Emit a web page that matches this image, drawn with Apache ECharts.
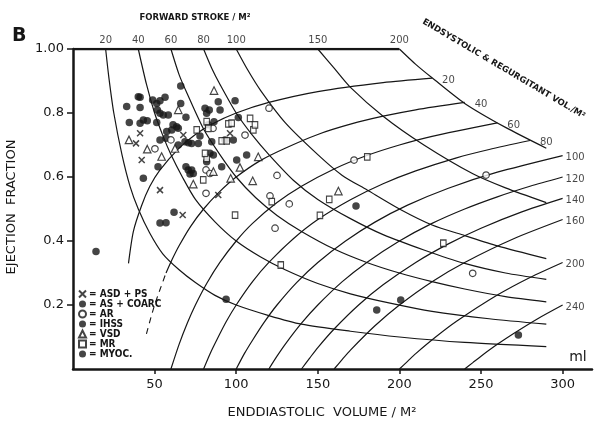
<!DOCTYPE html>
<html>
<head>
<meta charset="utf-8">
<title>Ejection fraction vs enddiastolic volume</title>
<script src="https://cdn.jsdelivr.net/npm/echarts@6.0.0/dist/echarts.min.js"></script>
<style>
  html, body { margin: 0; padding: 0; background: #fff; }
  #chart { width: 599px; height: 438px; }
</style>
</head>
<body>
<div id="chart"></div>
<script>
// axis ticks
const xTicks = [50, 100, 150, 200, 250, 300];
const yTicks = [0.2, 0.4, 0.6, 0.8, 1.0];

// iso-line labels
const fsValues = [20, 40, 60, 80, 100, 150, 200];
const esvValues = [20, 40, 60, 80, 100, 120, 140, 160, 200, 240];

// forward stroke / M2 curves, [EDV, EF], read top to bottom-right
const fs20 = [[20, 1.0], [22, 0.91], [25, 0.80], [30, 0.67], [35, 0.57], [40, 0.50], [47, 0.425], [55, 0.36], [65, 0.31], [75, 0.27], [87, 0.23], [100, 0.20], [120, 0.167], [140, 0.14], [170, 0.118], [200, 0.10], [240, 0.083], [290, 0.07]];
const fs40 = [[40, 1.0], [45, 0.89], [50, 0.80], [55, 0.73], [60, 0.67], [67, 0.60], [75, 0.53], [87, 0.46], [100, 0.40], [115, 0.35], [130, 0.31], [150, 0.267], [170, 0.235], [195, 0.205], [220, 0.18], [255, 0.157], [290, 0.14]];
const fs60 = [[60, 1.0], [65, 0.92], [70, 0.86], [80, 0.75], [90, 0.67], [100, 0.60], [112, 0.535], [125, 0.48], [140, 0.43], [160, 0.375], [180, 0.333], [200, 0.30], [220, 0.273], [240, 0.25], [265, 0.226], [290, 0.21]];
const fs80 = [[80, 1.0], [85, 0.94], [90, 0.89], [100, 0.80], [110, 0.73], [120, 0.67], [135, 0.59], [150, 0.53], [170, 0.47], [190, 0.42], [215, 0.372], [240, 0.33], [265, 0.30], [290, 0.28]];
const fs100 = [[100, 1.0], [107, 0.935], [115, 0.87], [130, 0.77], [150, 0.67], [165, 0.605], [180, 0.56], [200, 0.50], [220, 0.45], [240, 0.417], [260, 0.385], [290, 0.345]];
const fs150 = [[150, 1.0], [160, 0.94], [170, 0.88], [190, 0.79], [215, 0.70], [245, 0.61], [265, 0.566], [290, 0.52]];
const fs200 = [[200, 1.0], [210, 0.952], [220, 0.91], [240, 0.83], [265, 0.755], [290, 0.69]];

// endsystolic & regurgitant vol / M2 curves, [EDV, EF], bottom-left to right end
const esv20 = [[34, 0.33], [37, 0.43], [42, 0.51], [47, 0.57], [53, 0.62], [65, 0.69], [75, 0.733], [85, 0.765], [100, 0.80], [120, 0.833], [150, 0.867], [190, 0.895], [220, 0.909]];
const esv40 = [[57, 0.30], [61, 0.345], [65, 0.385], [72, 0.445], [80, 0.50], [90, 0.555], [100, 0.60], [115, 0.652], [130, 0.69], [150, 0.733], [170, 0.765], [190, 0.79], [210, 0.81], [240, 0.833]];
const esv40Dash = [[45, 0.11], [50, 0.20], [57, 0.30]];
const esv60 = [[60, 0], [65, 0.077], [70, 0.143], [75, 0.20], [82, 0.268], [90, 0.333], [100, 0.40], [110, 0.455], [125, 0.52], [140, 0.571], [160, 0.625], [180, 0.667], [200, 0.70], [220, 0.727], [260, 0.769]];
const esv80 = [[80, 0], [84, 0.048], [88, 0.09], [94, 0.149], [100, 0.20], [110, 0.273], [120, 0.333], [135, 0.407], [150, 0.467], [170, 0.529], [190, 0.579], [210, 0.619], [235, 0.66], [255, 0.686], [280, 0.714]];
const esv100 = [[100, 0], [105, 0.048], [110, 0.09], [117, 0.145], [125, 0.20], [137, 0.27], [150, 0.333], [167, 0.40], [185, 0.459], [205, 0.512], [230, 0.565], [260, 0.615], [300, 0.667]];
const esv120 = [[120, 0], [125, 0.04], [130, 0.077], [140, 0.143], [150, 0.20], [165, 0.273], [180, 0.333], [200, 0.40], [220, 0.455], [240, 0.50], [260, 0.538], [280, 0.571], [300, 0.60]];
const esv140 = [[140, 0], [145, 0.034], [150, 0.067], [160, 0.125], [175, 0.20], [190, 0.263], [210, 0.333], [230, 0.391], [250, 0.44], [275, 0.491], [300, 0.533]];
const esv160 = [[160, 0], [165, 0.03], [170, 0.059], [185, 0.135], [200, 0.20], [220, 0.273], [240, 0.333], [270, 0.407], [300, 0.467]];
const esv200 = [[200, 0], [205, 0.024], [210, 0.048], [222, 0.099], [235, 0.149], [260, 0.231], [280, 0.286], [300, 0.333]];
const esv240 = [[240, 0], [245, 0.02], [250, 0.04], [260, 0.077], [270, 0.111], [285, 0.158], [300, 0.20]];

const topBorder = [[0, 1.0], [200, 1.0]];

// patients, [EDV, EF]
const asdPs = [[38.6, 0.705], [41.1, 0.737], [42.1, 0.653], [53.3, 0.559], [67.6, 0.731], [96.2, 0.737], [89.0, 0.544], [67.2, 0.481]];
const asCoarc = [[41.1, 0.849], [41.1, 0.768], [43.1, 0.778], [45.5, 0.776], [48.8, 0.841], [51.3, 0.830], [53.3, 0.838],
  [56.4, 0.849], [51.7, 0.809], [53.3, 0.799], [55.3, 0.794], [51.3, 0.770], [58.4, 0.794], [61.3, 0.763], [63.5, 0.757],
  [60.5, 0.747], [64.5, 0.752], [66.0, 0.884], [66.0, 0.830], [69.2, 0.787], [57.4, 0.742], [57.0, 0.721], [53.3, 0.716],
  [52.1, 0.632], [64.5, 0.700], [68.6, 0.710], [70.7, 0.707], [72.7, 0.705], [76.8, 0.705], [80.9, 0.815], [81.9, 0.799],
  [83.5, 0.809], [89.0, 0.835], [90.1, 0.809], [82.9, 0.763], [86.4, 0.773], [85.0, 0.710], [83.9, 0.674], [86.0, 0.669],
  [81.9, 0.648], [70.6, 0.622], [72.7, 0.622], [71.7, 0.609], [69.2, 0.632], [73.7, 0.611], [91.1, 0.632], [99.3, 0.838],
  [101.3, 0.786], [100.3, 0.653], [106.4, 0.669], [77.8, 0.728], [93.1, 0.716], [98.2, 0.716]];
const ar = [[50.2, 0.688], [60.0, 0.716], [81.5, 0.622], [83.9, 0.611], [81.5, 0.549], [85.8, 0.752], [105.4, 0.731],
  [120.1, 0.815], [125.0, 0.605], [120.7, 0.541], [132.5, 0.516], [123.8, 0.440], [172.2, 0.653], [253.1, 0.606], [244.9, 0.299]];
const ihss = [[32.9, 0.820], [34.5, 0.770], [40.0, 0.851], [41.1, 0.817], [43.1, 0.596]];
const vsd = [[86.4, 0.870], [64.5, 0.810], [34.3, 0.716], [45.5, 0.687], [54.3, 0.664], [62.5, 0.689], [73.7, 0.578],
  [86.0, 0.617], [96.6, 0.596], [102.3, 0.630], [110.1, 0.588], [113.5, 0.663], [162.6, 0.556]];
const mr = [[75.8, 0.747], [81.9, 0.773], [82.9, 0.752], [91.1, 0.713], [94.2, 0.713], [95.2, 0.766], [97.2, 0.768],
  [81.9, 0.658], [80.9, 0.674], [79.8, 0.591], [108.5, 0.783], [110.5, 0.747], [111.5, 0.763], [99.3, 0.481], [121.8, 0.523],
  [127.3, 0.325], [157.0, 0.530], [151.3, 0.480], [180.3, 0.663], [226.9, 0.393]];
const myoc = [[14.1, 0.367], [53.3, 0.456], [57.0, 0.457], [61.9, 0.490], [93.8, 0.218], [173.4, 0.509], [200.8, 0.216],
  [186.1, 0.184], [272.9, 0.106]];

const fsCurves = [fs20, fs40, fs60, fs80, fs100, fs150, fs200];
const esvCurves = [esv20, esv40, esv60, esv80, esv100, esv120, esv140, esv160, esv200, esv240];

const INK = '#161616';
const FONT = "'DejaVu Sans', sans-serif";
const NARROW = "'Liberation Sans Narrow', 'DejaVu Sans Condensed', sans-serif";
const X_PATH = 'path://M0,0L10,10M10,0L0,10';

const curve = (data, extra) => Object.assign({
  type: 'line',
  data: data,
  showSymbol: false,
  smooth: 0.25,
  silent: true,
  z: 2,
  lineStyle: { color: INK, width: 1.2 },
}, extra || {});

const marker = (name, data, symbol, size, filled) => ({
  name: name,
  type: 'scatter',
  data: data,
  symbol: symbol,
  symbolSize: size,
  z: 5,
  itemStyle: filled
    ? { color: INK }
    : { color: symbol === X_PATH ? 'rgba(0,0,0,0)' : '#fff', borderColor: INK, borderWidth: symbol === X_PATH ? 1.5 : 1.2 },
});

const chart = echarts.init(document.getElementById('chart'), null, { renderer: 'canvas' });

const series = [
  curve(topBorder, { smooth: false, lineStyle: { color: INK, width: 2.5 } }),
  ...fsCurves.map((c) => curve(c)),
  ...esvCurves.map((c) => curve(c)),
  curve(esv40Dash, { lineStyle: { color: INK, width: 1.1, type: [6, 5] } }),
  {
    type: 'scatter',
    silent: true,
    symbolSize: 0,
    data: fsCurves.map((c, i) => ({ value: c[0], label: { formatter: String(fsValues[i]) } })),
    label: { show: true, position: 'top', distance: 4, color: INK, fontSize: 10, fontFamily: FONT },
  },
  {
    type: 'scatter',
    silent: true,
    symbolSize: 0,
    // labels 20-80 sit on the forward stroke 200 boundary, a little further out
    data: esvCurves.map((c, i) => ({
      value: c[c.length - 1],
      label: { formatter: String(esvValues[i]), offset: esvValues[i] < 100 ? [7, 2] : [0, 2] },
    })),
    label: { show: true, position: 'right', distance: 3, color: INK, fontSize: 10, fontFamily: FONT },
  },
  marker('ASD + PS', asdPs, X_PATH, 6, false),
  marker('AS + COARC', asCoarc, 'circle', 7.5, true),
  marker('AR', ar, 'circle', 6.5, false),
  marker('IHSS', ihss, 'circle', 7.5, true),
  marker('VSD', vsd, 'triangle', 7.5, false),
  marker('MR', mr, 'rect', [5.5, 6.5], false),
  marker('MYOC.', myoc, 'circle', 7.5, true),
];

const option = {
  animation: false,
  backgroundColor: '#fff',
  grid: { left: 73, top: 49, right: 7, bottom: 69 },
  xAxis: {
    type: 'value',
    min: 0,
    max: 318,
    splitLine: { show: false },
    axisLine: { lineStyle: { color: INK, width: 2.5 } },
    axisTick: { customValues: xTicks, length: 5, lineStyle: { color: INK, width: 1.5 } },
    axisLabel: { customValues: xTicks, margin: 9, color: INK, fontSize: 13, fontFamily: FONT },
  },
  yAxis: {
    type: 'value',
    min: 0,
    max: 1,
    splitLine: { show: false },
    axisLine: { lineStyle: { color: INK, width: 2.5 } },
    axisTick: { customValues: yTicks, length: 6, lineStyle: { color: INK, width: 1.5 } },
    axisLabel: {
      customValues: yTicks,
      margin: 9,
      color: INK,
      fontSize: 13,
      fontFamily: FONT,
      formatter: (v) => (v === 1 ? '1.00' : v.toFixed(1)),
    },
  },
  legend: {
    orient: 'vertical',
    left: 78,
    top: 289,
    padding: 0,
    itemGap: 0,
    itemWidth: 7,
    itemHeight: 7,
    selectedMode: false,
    formatter: (name) => '= ' + name,
    textStyle: { color: INK, fontSize: 10, fontWeight: 'bold', fontFamily: NARROW, lineHeight: 8, padding: [0, 0, 0, -2] },
    data: [
      { name: 'ASD + PS', icon: X_PATH },
      { name: 'AS + COARC', icon: 'circle' },
      { name: 'AR', icon: 'circle' },
      { name: 'IHSS', icon: 'circle' },
      { name: 'VSD', icon: 'triangle' },
      { name: 'MR', icon: 'rect' },
      { name: 'MYOC.', icon: 'circle' },
    ],
  },
  graphic: [
    { type: 'text', left: 12, top: 27, style: { text: 'B', fill: INK, font: "bold 19px 'DejaVu Sans', sans-serif" } },
    { type: 'text', x: 195, y: 18, style: { text: 'FORWARD STROKE / M²', fill: INK, align: 'center', verticalAlign: 'middle', font: "bold 8.5px 'DejaVu Sans', sans-serif" } },
    { type: 'text', x: 423, y: 21, rotation: -0.535, style: { text: 'ENDSYSTOLIC & REGURGITANT VOL./M²', fill: INK, align: 'left', verticalAlign: 'middle', font: "bold 8.5px 'DejaVu Sans', sans-serif" } },
    { type: 'text', x: 12, y: 207, rotation: Math.PI / 2, style: { text: 'EJECTION  FRACTION', fill: INK, align: 'center', verticalAlign: 'middle', font: "13px 'DejaVu Sans', sans-serif" } },
    { type: 'text', x: 322, y: 413, style: { text: 'ENDDIASTOLIC  VOLUME / M²', fill: INK, align: 'center', verticalAlign: 'middle', font: "13px 'DejaVu Sans', sans-serif" } },
    { type: 'text', x: 578, y: 357, style: { text: 'ml', fill: INK, align: 'center', verticalAlign: 'middle', font: "14px 'DejaVu Sans', sans-serif" } },
  ],
  series: series,
};

chart.setOption(option);
</script>
</body>
</html>
